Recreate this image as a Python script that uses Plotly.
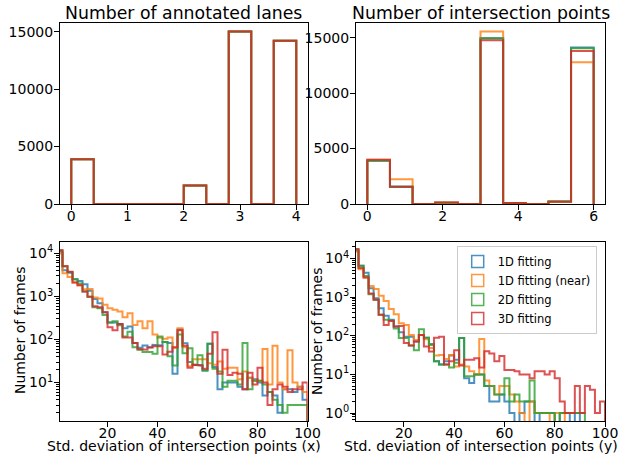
import numpy as np
import plotly.graph_objects as go

# ---------------- data ----------------
series_names = ["1D fitting", "1D fitting (near)", "2D fitting", "3D fitting"]
series_colors = ["#1f77b4", "#ff7f0e", "#2ca02c", "#d62728"]

# Number of annotated lanes: 10 bins over [0, 4]
lanes_edges = np.linspace(0, 4, 11)
lanes_1d = [3900, 0, 0, 0, 0, 1600, 0, 15000, 0, 14200]
lanes_1d_near = [3900, 0, 0, 0, 0, 1600, 0, 15000, 0, 14200]
lanes_2d = [3900, 0, 0, 0, 0, 1600, 0, 15000, 0, 14200]
lanes_3d = [3900, 0, 0, 0, 0, 1600, 0, 15000, 0, 14200]

# Number of intersection points: 10 bins over [0, 6]
points_edges = np.linspace(0, 6, 11)
points_1d = [3900, 1560, 0, 100, 0, 14940, 100, 0, 200, 14100]
points_1d_near = [4000, 2230, 0, 100, 0, 15540, 100, 0, 200, 12780]
points_2d = [3900, 1560, 0, 120, 0, 14940, 100, 0, 250, 14040]
points_3d = [3980, 1560, 0, 150, 0, 14760, 100, 0, 200, 13800]

# Std. deviation histograms: bins of width 2 over [0, 100]
std_edges = np.arange(0, 102, 2)
std_x_1d = [11000, 4050, 3580, 2510, 2300, 1930, 1350, 870, 700, 430,
            250, 250, 230, 183, 200, 83, 64, 73, 66, 75,
            73, 87, 83, 16, 170, 82, 30, 26, 25, 19,
            80, 23, 7, 10, 10, 10, 8, 7, 13, 12,
            10, 5, 6, 5, 2, 7, 7, 6, 8, 4]
std_x_1d_near = [10000, 3450, 2840, 2100, 1830, 1480, 1500, 950, 900, 640,
                 530, 490, 445, 330, 410, 217, 265, 183, 265, 130,
                 110, 104, 112, 64, 183, 66, 24, 35, 35, 35,
                 28, 26, 31, 21, 22, 22, 12, 18, 13, 11,
                 11, 60, 9, 72, 10, 7, 56, 10, 8, 6]
std_x_2d = [11500, 5000, 3700, 2500, 2000, 1300, 980, 560, 530, 370,
            250, 265, 215, 117, 152, 66, 58, 51, 51, 47,
            117, 87, 41, 25, 131, 48, 63, 26, 43, 19,
            80, 21, 18, 8, 11, 11, 9, 83, 7, 11,
            11, 9, 6, 4, 3, 2, 3, 3, 3, 3]
std_x_3d = [12000, 5100, 3770, 2100, 1830, 1300, 980, 590, 560, 430,
            192, 165, 230, 112, 112, 83, 60, 58, 65, 70,
            70, 45, 52, 66, 165, 72, 22, 26, 25, 21,
            47, 148, 16, 58, 15, 17, 16, 7, 17, 9,
            22, 10, 3, 7, 9, 8, 6, 7, 7, 10]

std_y_1d = [16000, 6500, 4300, 1700, 930, 515, 330, 260, 175, 123,
            95, 95, 71, 105, 89, 61, 22, 18, 22, 31,
            24, 87, 8, 6, 10, 10, 5, 2, 2, 3,
            2, 1, 0, 1, 2, 2, 0, 1, 1, 1,
            0, 1, 1, 0, 1, 0, 0, 0, 0, 0]
std_y_1d_near = [15000, 5300, 3200, 1950, 1620, 1090, 790, 490, 360, 210,
                 190, 105, 78, 105, 81, 48, 31, 32, 25, 32,
                 16, 18, 16, 12, 10, 83, 7, 5, 3, 5,
                 5, 3, 2, 1, 0, 2, 1, 1, 1, 0,
                 1, 1, 0, 0, 0, 0, 0, 0, 0, 0]
std_y_2d = [17000, 6500, 3500, 1180, 850, 350, 260, 250, 155, 87,
            87, 56, 42, 148, 89, 58, 22, 18, 18, 15,
            20, 87, 9, 9, 10, 10, 5, 5, 3, 3,
            8, 2, 3, 2, 2, 7, 1, 1, 1, 1,
            0, 1, 1, 1, 1, 1, 0, 0, 0, 0]
std_y_3d = [17500, 5700, 3200, 1250, 850, 350, 190, 240, 175, 180,
            65, 56, 71, 105, 53, 39, 89, 95, 18, 22,
            42, 17, 24, 24, 26, 15, 40, 35, 22, 30,
            13, 13, 12, 10, 10, 8, 12, 12, 10, 12,
            8, 2, 1, 1, 5, 1, 5, 4, 1, 2]

log_tick_exps = [0, 1, 2, 3, 4]
log_tick_text = ["10<sup>%d</sup>" % e for e in log_tick_exps]

# ---------------- helpers ----------------
def step_xy(edges, counts, floor):
    c = np.asarray(counts, dtype=float)
    c = np.where(c > 0, c, floor)
    x = np.repeat(edges, 2)
    y = np.concatenate([[floor], np.repeat(c, 2), [floor]])
    return x, y

W, H = 629, 456
def px_x(a, b):
    return [a / W, b / W]
def px_y(top, bottom):
    return [(H - bottom) / H, (H - top) / H]

FONT = "DejaVu Sans"
fig = go.Figure()

panels = [
    ("x", "y", lanes_edges, [lanes_1d, lanes_1d_near, lanes_2d, lanes_3d], 0.0),
    ("x2", "y2", points_edges, [points_1d, points_1d_near, points_2d, points_3d], 0.0),
    ("x3", "y3", std_edges, [std_x_1d, std_x_1d_near, std_x_2d, std_x_3d], 1e-3),
    ("x4", "y4", std_edges, [std_y_1d, std_y_1d_near, std_y_2d, std_y_3d], 1e-3),
]
for xa, ya, edges, sets, floor in panels:
    for name, col, counts in zip(series_names, series_colors, sets):
        xs, ys = step_xy(edges, counts, floor)
        fig.add_trace(go.Scatter(
            x=xs, y=ys, mode="lines", xaxis=xa, yaxis=ya,
            line=dict(color=col, width=2), opacity=0.8,
            showlegend=False, hoverinfo="skip", name=name))

# legend entries (outlined boxes like matplotlib step patches)
for name, col in zip(series_names, series_colors):
    fig.add_trace(go.Bar(
        x=[None], y=[None], xaxis="x4", yaxis="y4", name=name,
        marker=dict(color="rgba(0,0,0,0)", line=dict(color=col, width=1.5)),
        opacity=0.8, showlegend=True))

tickfont = dict(family=FONT, size=14, color="black")
common = dict(showline=True, linecolor="black", linewidth=1.1, mirror=True,
              ticks="outside", ticklen=5, tickwidth=1.1, tickcolor="black",
              showgrid=False, zeroline=False, tickfont=tickfont, automargin=False)
xcommon = dict(common, ticklabelstandoff=-6)
ycommon = dict(common, ticklabelstandoff=-2)
minor_log = dict(ticks="outside", ticklen=3, tickwidth=0.8, tickcolor="black",
                 dtick="D1", showgrid=False)

x_left, x_right = px_x(60, 307.5), px_x(356, 605)
y_top = px_y(23, 204)
y_bot = px_y(241.5, 421)

fig.update_layout(
    width=W, height=H, autosize=False,
    margin=dict(l=0, r=0, t=0, b=0, autoexpand=False),
    paper_bgcolor="white", plot_bgcolor="white",
    font=dict(family=FONT, color="black"),
    barmode="overlay",
    xaxis=dict(domain=x_left, range=[-0.2, 4.2], tickmode="linear", tick0=0, dtick=1,
               anchor="y", **xcommon),
    yaxis=dict(domain=y_top, range=[0, 15750], tickmode="linear", tick0=0, dtick=5000,
               tickformat="d", anchor="x", **ycommon),
    xaxis2=dict(domain=x_right, range=[-0.3, 6.3], tickmode="linear", tick0=0, dtick=2,
                anchor="y2", **xcommon),
    yaxis2=dict(domain=y_top, range=[0, 16317], tickmode="linear", tick0=0, dtick=5000,
                tickformat="d", anchor="x2", **ycommon),
    xaxis3=dict(domain=x_left, range=[1, 100], tickmode="array",
                tickvals=[20, 40, 60, 80, 100], anchor="y3", **xcommon),
    yaxis3=dict(domain=y_bot, type="log", range=[0.107, 4.277], tickmode="array",
                tickvals=[10 ** e for e in log_tick_exps[1:]], ticktext=log_tick_text[1:],
                minor=minor_log, anchor="x3", **ycommon),
    xaxis4=dict(domain=x_right, range=[1, 100], tickmode="array",
                tickvals=[20, 40, 60, 80, 100], anchor="y4", **xcommon),
    yaxis4=dict(domain=y_bot, type="log", range=[-0.206, 4.44], tickmode="array",
                tickvals=[10 ** e for e in log_tick_exps], ticktext=log_tick_text,
                minor=minor_log, anchor="x4", **ycommon),
    legend=dict(x=456.7 / W, y=(H - 246) / H, xanchor="left", yanchor="top",
                bgcolor="white", bordercolor="#cccccc", borderwidth=1,
                font=dict(family=FONT, size=11.5, color="black"),
                tracegroupgap=0, itemwidth=30),
)

title_font = dict(family=FONT, size=17.3, color="black")
label_font = dict(family=FONT, size=14, color="black")
annos = [
    dict(text="Number of annotated lanes", x=183.7 / W, y=(H - 13) / H, font=title_font),
    dict(text="Number of intersection points", x=480.8 / W, y=(H - 13) / H, font=title_font),
    dict(text="Std. deviation of intersection points (x)", x=183.7 / W, y=(H - 446) / H,
         font=label_font),
    dict(text="Std. deviation of intersection points (y)", x=480.5 / W, y=(H - 446) / H,
         font=label_font),
    dict(text="Number of frames", x=20 / W, y=(H - 331) / H, font=label_font, textangle=-90),
    dict(text="Number of frames", x=317 / W, y=(H - 331) / H, font=label_font, textangle=-90),
]
for a in annos:
    fig.add_annotation(xref="paper", yref="paper", xanchor="center", yanchor="middle",
                       showarrow=False, **a)

fig.write_html("out.html")
